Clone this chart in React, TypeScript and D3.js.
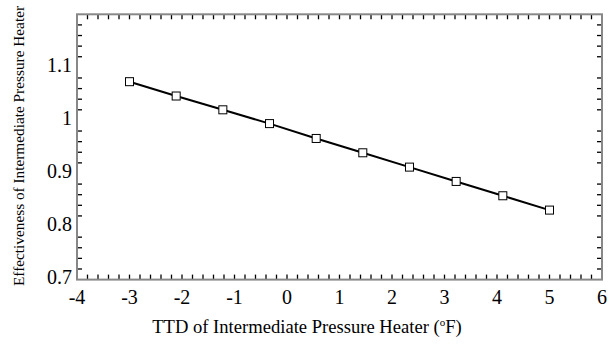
import React from "react";
import * as d3 from "d3";

const xValues = [-3, -2.111, -1.222, -0.333, 0.556, 1.444, 2.333, 3.222, 4.111, 5];
const yValues = [1.053, 1.026, 1.0, 0.974, 0.946, 0.919, 0.892, 0.865, 0.838, 0.811];
const xTickLabels = [-4, -3, -2, -1, 0, 1, 2, 3, 4, 5, 6];
const yTickLabels = [0.7, 0.8, 0.9, 1.0, 1.1];
const yMinorTicks = [0.7, 0.72, 0.74, 0.76, 0.8, 0.82, 0.84, 0.86, 0.9, 0.92, 0.94, 0.96, 1.0, 1.02, 1.04, 1.06, 1.1, 1.12, 1.14, 1.16];
const xTitle = "TTD of Intermediate Pressure Heater (";
const yTitle = "Effectiveness of Intermediate Pressure Heater";

const W = 615, H = 345;
const L = 77, R = 602, T = 14.3, B = 279.6;

export default function App() {
  const x = d3.scaleLinear().domain([-4, 6]).range([L, R]);
  const y = d3.scaleLinear().domain([0.68, 1.18]).range([B, T]);
  const xMinor = d3.range(-4, 6.001, 0.2);
  const pts = xValues.map((v, i) => [x(v), y(yValues[i])] as [number, number]);
  const line = d3.line()(pts) || "";
  const tl = 5;
  const font = "'Liberation Serif', 'Times New Roman', serif";
  return (
    <svg width={W} height={H} style={{ position: "absolute", left: 0, top: 0, background: "#fff" }}>
      <rect x={0} y={0} width={W} height={H} fill="#fff" />
      {xMinor.map((t, i) => (
        <g key={"xt" + i}>
          <line x1={x(t)} x2={x(t)} y1={B} y2={B - tl} stroke="#000" strokeWidth={1.3} />
          <line x1={x(t)} x2={x(t)} y1={T} y2={T + tl} stroke="#000" strokeWidth={1.3} />
        </g>
      ))}
      {yMinorTicks.map((t, i) => (
        <g key={"yt" + i}>
          <line x1={L} x2={L + tl} y1={y(t)} y2={y(t)} stroke="#000" strokeWidth={1.3} />
          <line x1={R} x2={R - tl} y1={y(t)} y2={y(t)} stroke="#000" strokeWidth={1.3} />
        </g>
      ))}
      <rect x={L} y={T} width={R - L} height={B - T} fill="none" stroke="#888" strokeWidth={2} />
      {xTickLabels.map((t) => (
        <text key={"xl" + t} x={x(t)} y={304} textAnchor="middle" fontFamily={font} fontSize={20} fill="#000">
          {t < 0 ? "-" + Math.abs(t) : String(t)}
        </text>
      ))}
      {yTickLabels.map((t) => (
        <text key={"yl" + t} x={72} y={y(t) + 15} textAnchor="end" fontFamily={font} fontSize={20} fill="#000">
          {t === 1 ? "1" : String(t)}
        </text>
      ))}
      <path d={line} fill="none" stroke="#000" strokeWidth={2} />
      {pts.map((p, i) => (
        <rect key={"m" + i} x={p[0] - 4} y={p[1] - 4} width={8} height={8} fill="#fff" stroke="#000" strokeWidth={1} />
      ))}
      <text x={307} y={333} textAnchor="middle" fontFamily={font} fontSize={18.6} fill="#000">
        {xTitle}
        <tspan dy={-7} fontSize={11}>o</tspan>
        <tspan dy={7}>F)</tspan>
      </text>
      <text transform={`translate(24, 146) rotate(-90)`} textAnchor="middle" fontFamily={font} fontSize={15.3} fill="#000">
        {yTitle}
      </text>
    </svg>
  );
}
